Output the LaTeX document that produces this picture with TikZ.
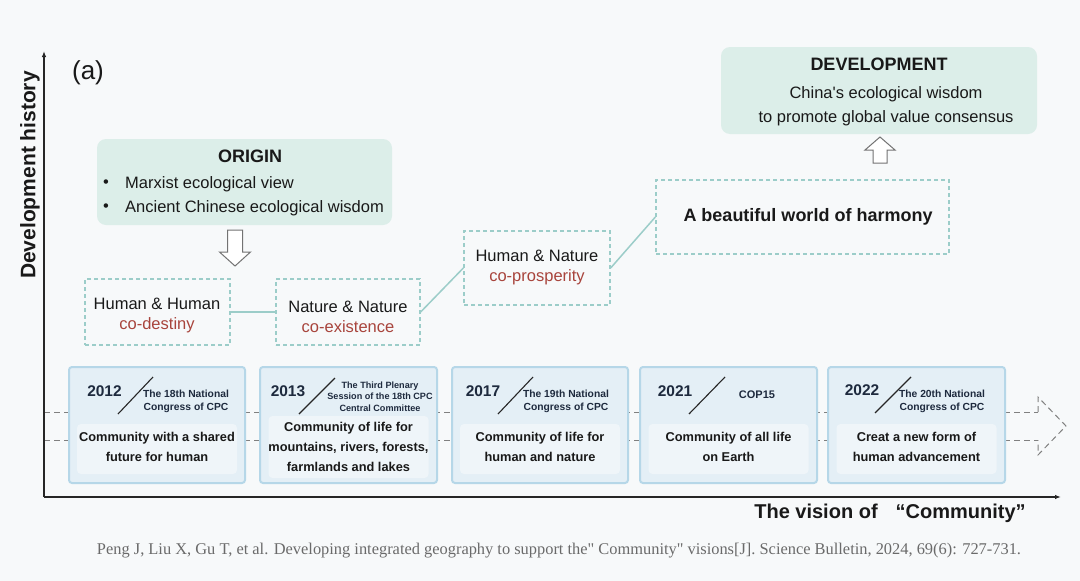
\documentclass[tikz,border=0pt]{standalone}
\usepackage{fontspec}
\setmainfont{Liberation Sans}
\newfontfamily\citefont{Liberation Serif}
\newfontfamily\plainsans{Liberation Sans}
\usetikzlibrary{arrows.meta}
\definecolor{bgcol}{HTML}{F7F9FA}
\definecolor{mint}{HTML}{DCEEE9}
\definecolor{tealline}{HTML}{9CCDC9}
\definecolor{redtxt}{HTML}{A8443C}
\definecolor{tlfill}{HTML}{E4EFF6}
\definecolor{tlborder}{HTML}{B6D7E8}
\definecolor{panelfill}{HTML}{EFF5F9}
\definecolor{navy}{HTML}{1E2A3E}
\definecolor{citegray}{HTML}{6A6A6A}
\newcommand{\fsz}[2]{\fontsize{#1}{#2}\selectfont}
\tikzset{
  greenbox/.style={rectangle, rounded corners=9pt, fill=mint, draw=none},
  dashbox/.style={rectangle, draw=tealline, line width=1.3pt, dash pattern=on 4pt off 3pt, fill=bgcol},
  tlbox/.style={rectangle, rounded corners=3pt, draw=tlborder, line width=2pt, fill=tlfill, minimum width=176pt, minimum height=116pt},
  panel/.style={rectangle, rounded corners=4pt, fill=panelfill, draw=none, minimum width=160pt},
  link/.style={draw=tealline, line width=1.5pt},
  yeartxt/.style={font=\bfseries\fsz{15.5}{18}, text=navy, inner sep=0pt},
  congtxt/.style={font=\bfseries\fsz{10.3}{13}, text=navy, align=center, inner sep=0pt},
  desctxt/.style={font=\bfseries\fsz{12.8}{20}, text=black!90, align=center, inner sep=0pt},
  slashline/.style={draw=black!85, line width=1.1pt},
  hollow/.style={draw=black!55, line width=1pt, fill=white},
  tline/.style={draw=black!50, line width=1pt, dash pattern=on 6pt off 4pt},
  mainlbl/.style={font=\fsz{16.5}{20}, text=black!90, align=center, inner sep=0pt},
  bodytxt/.style={font=\fsz{16.5}{18}, text=black!90},
}
\begin{document}
\begin{tikzpicture}[x=1pt,y=-1pt]
\useasboundingbox (0,0) rectangle (1080,581);
\fill[bgcol] (0,0) rectangle (1080,581);

% dashed timeline lines (behind boxes)
\coordinate (l1s) at (44,412);
\coordinate (l1e) at (1038,412);
\coordinate (l2s) at (44,440);
\coordinate (l2e) at (1038,440);
\draw[tline] (l1s) -- (l1e);
\draw[tline] (l2s) -- (l2e);
\draw[tline] (l1e) -- (1038,397) -- (1066,426) -- (1038,455) -- (l2e);

% axes
\coordinate (org) at (44,497);
\coordinate (ytop) at (44,51);
\coordinate (xend) at (1061,497);
\draw[line width=1.2pt, black!85, -{Latex[length=6pt,width=4.5pt]}] (org) -- (ytop);
\draw[line width=1.2pt, black!85, -{Latex[length=6pt,width=4.5pt]}] (org) -- (xend);
\node (ylab) [rotate=90, font=\bfseries\fsz{21}{24}, text=black!90] at (30,175) {Development history};
\node (xlab) [font=\bfseries\fsz{20}{24}, text=black!90] at (890,513) {The vision of\hspace{18pt}“Community”};
\node (alab) [font=\fsz{26}{30}, text=black!90] at (88,73) {(a)};

% ORIGIN box
\node (origin) [greenbox, minimum width=295pt, minimum height=86pt] at (244.5,182) {};
\node (origint) [font=\bfseries\fsz{18}{20}, text=black!90] at (250,156) {ORIGIN};
\node (ob1) [bodytxt] at (106,184) {•};
\node (ob2) [bodytxt] at (106,208) {•};
\node (ot1) [bodytxt, anchor=west, inner sep=0pt] at (125,184) {Marxist ecological view};
\node (ot2) [bodytxt, anchor=west, inner sep=0pt] at (125,208) {Ancient Chinese ecological wisdom};

% down arrow
\draw[hollow] (227.5,230) -- (242.5,230) -- (242.5,252) -- (250.5,252) -- (235,266) -- (219.5,252) -- (227.5,252) -- cycle;

% DEVELOPMENT box
\node (devel) [greenbox, minimum width=316pt, minimum height=87pt] at (879,90.5) {};
\node (develt) [font=\bfseries\fsz{18}{20}, text=black!90] at (879,64) {DEVELOPMENT};
\node (develx) [font=\plainsans\fsz{16.5}{24}, text=black!90, align=center] at (886,106) {China's ecological wisdom\\to promote global value consensus};

% up arrow
\draw[hollow] (873,163) -- (887,163) -- (887,150) -- (895,150) -- (880,137) -- (865,150) -- (873,150) -- cycle;

% dashed stage boxes
\node (hh) [dashbox, minimum width=145pt, minimum height=66pt] at (157.5,312) {};
\node (nn) [dashbox, minimum width=144pt, minimum height=66pt] at (348,312) {};
\node (hn) [dashbox, minimum width=146pt, minimum height=74pt] at (537,268) {};
\node (ww) [dashbox, minimum width=293pt, minimum height=74pt] at (802.5,217) {};
\draw[link] (hh.east) -- (nn.west);
\draw[link] (nn.east) -- (hn.west);
\draw[link] (hn.east) -- (ww.west);

\node (hht) [mainlbl] at (157,316) {Human \& Human\\\textcolor{redtxt}{co-destiny}};
\node (nnt) [mainlbl] at (348,317) {Nature \& Nature\\\textcolor{redtxt}{co-existence}};
\node (hnt) [mainlbl] at (537,268) {Human \& Nature\\\textcolor{redtxt}{co-prosperity}};
\node (wwt) [font=\bfseries\fsz{18}{20}, text=black!90] at (808,217) {A beautiful world of harmony};

% timeline boxes
\node (b1) [tlbox] at (157,425) {};
\node (b2) [tlbox, minimum width=177pt] at (348.5,425) {};
\node (b3) [tlbox] at (540,425) {};
\node (b4) [tlbox, minimum width=177pt] at (728.5,425) {};
\node (b5) [tlbox, minimum width=177pt] at (916.5,425) {};

\node (p1) [panel, minimum height=50pt] at (157,449) {};
\node (p2) [panel, minimum height=62pt] at (348.5,447) {};
\node (p3) [panel, minimum height=50pt] at (540,449) {};
\node (p4) [panel, minimum height=50pt] at (728.5,449) {};
\node (p5) [panel, minimum height=50pt] at (916.5,449) {};

% box 1
\node (y1) [yeartxt] at (104.5,391) {2012};
\coordinate (s1a) at (118,414); \coordinate (s1b) at (153,377);
\draw[slashline] (s1a) -- (s1b);
\node (c1) [congtxt] at (186,401.5) {The 18th National\\Congress of CPC};
\node (d1) [desctxt] at (157,447) {Community with a shared\\future for human};

% box 2
\node (y2) [yeartxt] at (288,391) {2013};
\coordinate (s2a) at (299,414); \coordinate (s2b) at (335,378);
\draw[slashline] (s2a) -- (s2b);
\node (c2) [congtxt, font=\bfseries\fsz{9.1}{11.5}] at (380,396.5) {The Third Plenary\\Session of the 18th CPC\\Central Committee};
\node (d2) [desctxt] at (348.5,447) {Community of life for\\mountains, rivers, forests,\\farmlands and lakes};

% box 3
\node (y3) [yeartxt] at (483,391) {2017};
\coordinate (s3a) at (498,414); \coordinate (s3b) at (533,377);
\draw[slashline] (s3a) -- (s3b);
\node (c3) [congtxt] at (566,401.5) {The 19th National\\Congress of CPC};
\node (d3) [desctxt] at (540,447) {Community of life for\\human and nature};

% box 4
\node (y4) [yeartxt] at (675,391) {2021};
\coordinate (s4a) at (689,414); \coordinate (s4b) at (725,377);
\draw[slashline] (s4a) -- (s4b);
\node (c4) [congtxt, font=\bfseries\fsz{11}{13}] at (757,395) {COP15};
\node (d4) [desctxt] at (728.5,447) {Community of all life\\on Earth};

% box 5
\node (y5) [yeartxt] at (862,390) {2022};
\coordinate (s5a) at (875,413); \coordinate (s5b) at (911,377);
\draw[slashline] (s5a) -- (s5b);
\node (c5) [congtxt] at (942,401.5) {The 20th National\\Congress of CPC};
\node (d5) [desctxt] at (916.5,447) {Creat a new form of\\human advancement};

% citation
\node (cite) [font=\citefont\fsz{16.4}{18}, text=citegray] at (559,551) {Peng J, Liu X, Gu T, et al. Developing integrated geography to support the" Community" visions[J]. Science Bulletin, 2024, 69(6): 727-731.};
\end{tikzpicture}
\end{document}
